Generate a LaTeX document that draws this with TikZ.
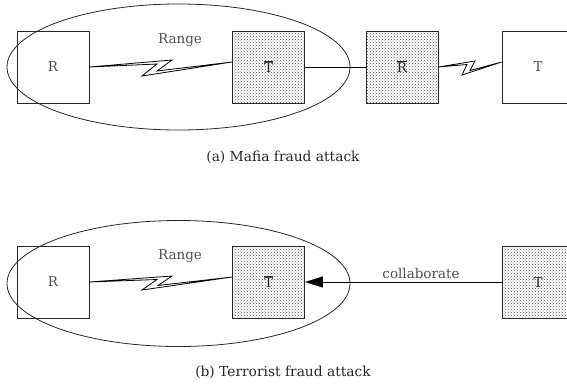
\documentclass[tikz,border=0pt]{standalone}
\usepackage{fontspec}
\setmainfont{DejaVu Serif}
\usetikzlibrary{shapes.geometric,arrows.meta,patterns}
\tikzset{
  boxnode/.style={draw=black!85, line width=0.8pt, minimum width=72pt, minimum height=72pt, inner sep=0pt, font=\fontsize{13.5}{16}\selectfont, text=black!70},
  shaded/.style={boxnode, text=black!85, preaction={fill=white}, pattern=crosshatch dots, pattern color=black!65},
  rangeell/.style={draw=black!85, line width=0.8pt, ellipse, minimum width=343pt, minimum height=126pt, inner sep=0pt},
  bolt/.style={draw=black, line width=0.8pt, line join=miter},
  lbl/.style={font=\fontsize{13.5}{16}\selectfont, text=black!70},
  captext/.style={font=\fontsize{13.8}{16}\selectfont, text=black!85}
}
\newcommand{\barT}{\(\overline{\mbox{T}}\)}
\newcommand{\barR}{\(\overline{\mbox{R}}\)}
\begin{document}
\begin{tikzpicture}[x=1pt,y=-1pt]
\useasboundingbox (0,0) rectangle (567,386);
% ---------- (a) ----------
\node[rangeell] (e1) at (178.5,67) {};
\node[boxnode] (R1) at (53,67) {R};
\node[shaded] (Tb1) at (268.5,67) {\barT};
\node[shaded] (Rb1) at (402,67) {\barR};
\node[boxnode] (T1) at (538,67) {T};
\node[lbl] (rg1) at (180,40) {Range};
\draw[bolt] (R1.east) -- (172,60) -- (157,71) -- ([yshift=5pt]Tb1.west) -- (142,76) -- (157,64) -- cycle;
\draw[line width=0.8pt] (Tb1.east) -- (Rb1.west);
\draw[bolt] (Rb1.east) -- (475,61) -- (470,70.5) -- ([yshift=5pt]T1.west) -- (462,75) -- (467,64.5) -- cycle;
\node[captext] (capa) at (283,157) {(a) Mafia fraud attack};
% ---------- (b) ----------
\node[rangeell] (e2) at (178.5,283.5) {};
\node[boxnode] (R2) at (53,282) {R};
\node[shaded] (Tb2) at (268.5,282) {\barT};
\node[shaded] (T2) at (538,282.5) {T};
\node[lbl] (rg2) at (180,256) {Range};
\draw[bolt] (R2.east) -- (172,276) -- (158,285.5) -- ([yshift=5pt]Tb2.west) -- (142,290) -- (157,279.5) -- cycle;
\draw[line width=0.8pt, -{Triangle[length=18pt,width=11pt]}] (T2.west |- Tb2.east) -- (Tb2.east);
\node[lbl] (col) at (421,273) {collaborate};
\node[captext] (capb) at (283,372) {(b) Terrorist fraud attack};
\end{tikzpicture}
\end{document}
